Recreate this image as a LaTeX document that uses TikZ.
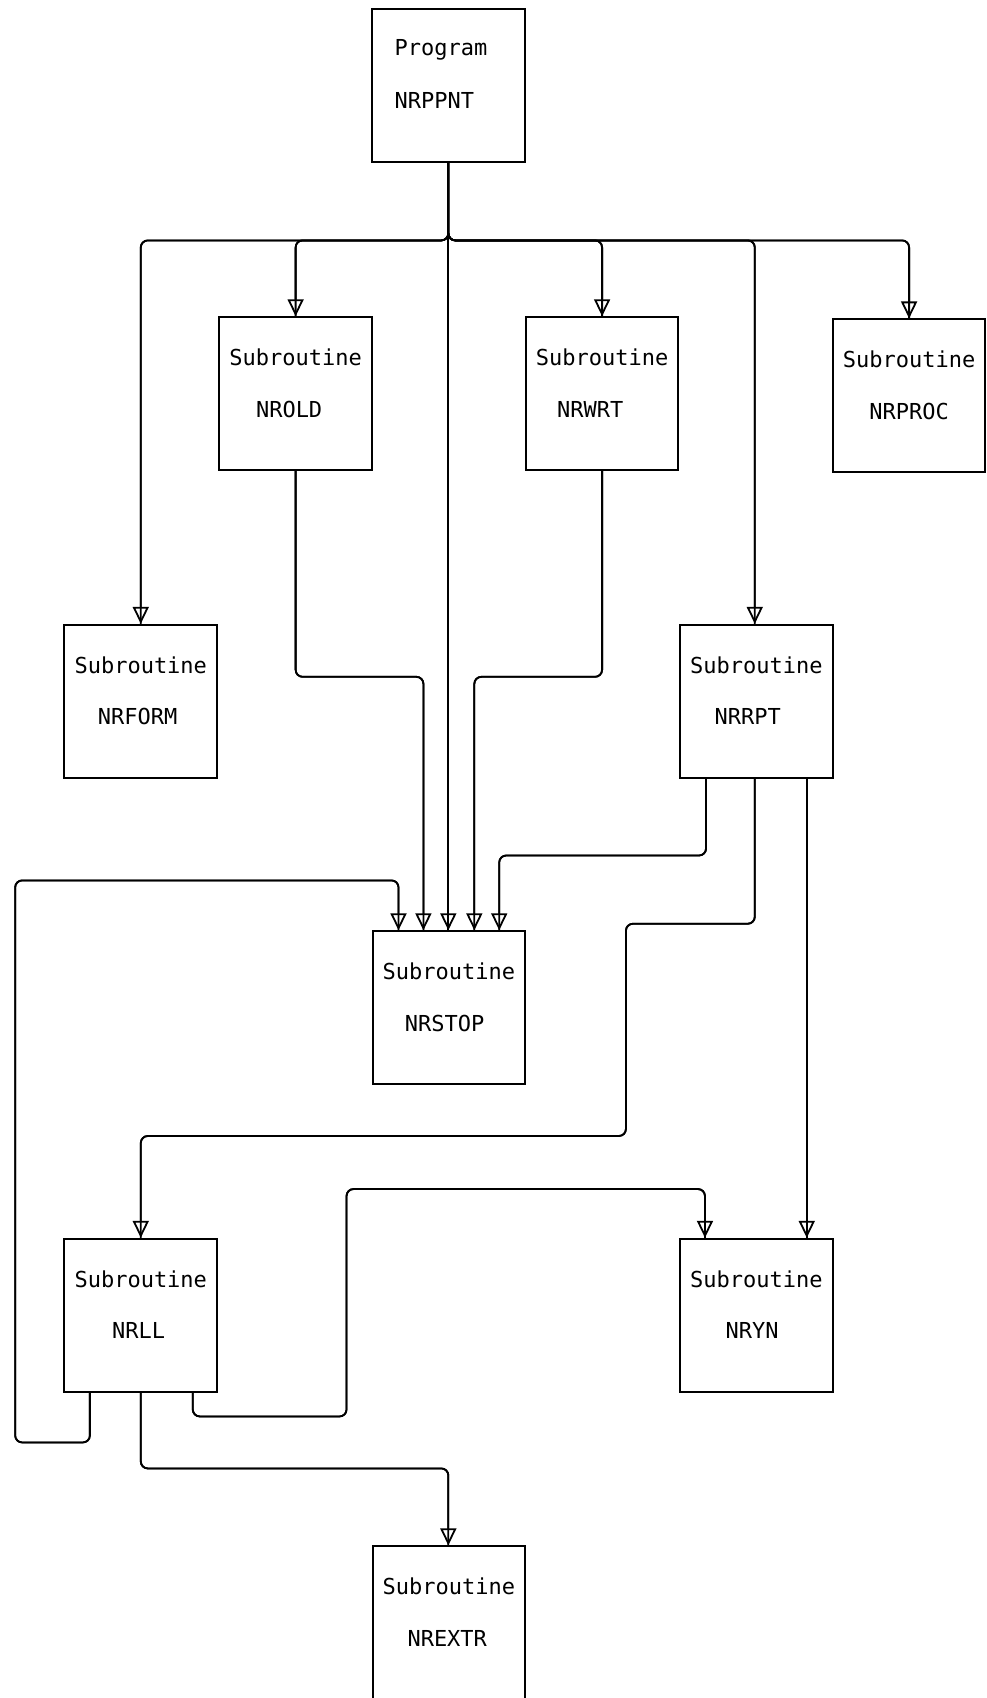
\documentclass[tikz,border=0pt]{standalone}
\usepackage{fontspec}
\setmainfont{DejaVu Sans Mono}
\usetikzlibrary{arrows.meta,calc}
\newcommand\mkbox[5]{%
  \node[box] (#1) at (#2,{#3+70.5}) {};
  \node[txt] (#1a) at (#2,{#3+37}) {Subroutine};
  \node[txt] (#1b) at ({#2+(#5)},{#3+85}) {#4};
}
\begin{document}
\begin{tikzpicture}[x=0.5417pt,y=-0.5417pt,
  box/.style={draw,line width=1pt,minimum width=76.4pt,minimum height=76.4pt,inner sep=0pt},
  txt/.style={font=\fontsize{11}{13}\selectfont,inner sep=0pt},
  wire/.style={line width=0.9pt,rounded corners=3.5pt},
  flow/.style={wire,postaction={draw,-{Triangle[open,length=8.5pt,width=8pt]}}}]
\useasboundingbox (0,0) rectangle (911,1568);

% boxes
\node[box] (prog) at (414,79) {};
\node[txt,anchor=west] (proga) at (364,46) {Program};
\node[txt,anchor=west] (progb) at (364,93) {NRPPNT};

\mkbox{old}{273}{293}{NROLD}{-6}
\mkbox{wrt}{556}{293}{NRWRT}{-11}
\mkbox{proc}{839.5}{295}{NRPROC}{0}
\mkbox{form}{130}{577}{NRFORM}{-3}
\mkbox{rpt}{698.5}{577}{NRRPT}{-8}
\mkbox{stop}{414.5}{860}{NRSTOP}{-4}
\mkbox{ll}{130}{1144}{NRLL}{-2}
\mkbox{yn}{698.5}{1144}{NRYN}{-4}
\mkbox{extr}{414.5}{1428}{NREXTR}{-1.5}

% bus from program
\coordinate (bus) at (414,222);
\draw[flow] (prog.south) -- (bus) -| (form.north);
\draw[flow] (prog.south) -- (bus) -| (old.north);
\draw[flow] (prog.south) -- (prog.south |- stop.north);
\draw[flow] (prog.south) -- (bus) -| (wrt.north);
\draw[flow] (prog.south) -- (bus) -| ($(rpt.north)+(-1.5,0)$);
\draw[flow] (prog.south) -- (bus) -| (proc.north);

% into NRSTOP
\draw[flow] ($(ll.south)+(-47,0)$) -- (83,1332) -- (14,1332) -- (14,813) -| ($(stop.north)+(-46.5,0)$);
\draw[flow] (old.south) -- (273,625) -| ($(stop.north)+(-23.5,0)$);
\draw[flow] (wrt.south) -- (556,625) -| ($(stop.north)+(23.5,0)$);
\draw[flow] ($(rpt.south)+(-46.5,0)$) -- (652,790) -| ($(stop.north)+(46.5,0)$);

% from NRRPT
\draw[flow] ($(rpt.south)+(-1.5,0)$) -- (697,853) -- (578,853) -- (578,1049) -| (ll.north);
\draw[flow] ($(rpt.south)+(46.5,0)$) -- ($(yn.north)+(46.5,0)$);

% from NRLL
\draw[flow] ($(ll.south)+(48,0)$) -- (178,1308) -- (320,1308) -- (320,1098) -| ($(yn.north)+(-47.5,0)$);
\draw[flow] (ll.south) -- (130,1356) -| ($(extr.north)+(-0.5,0)$);
\end{tikzpicture}
\end{document}
